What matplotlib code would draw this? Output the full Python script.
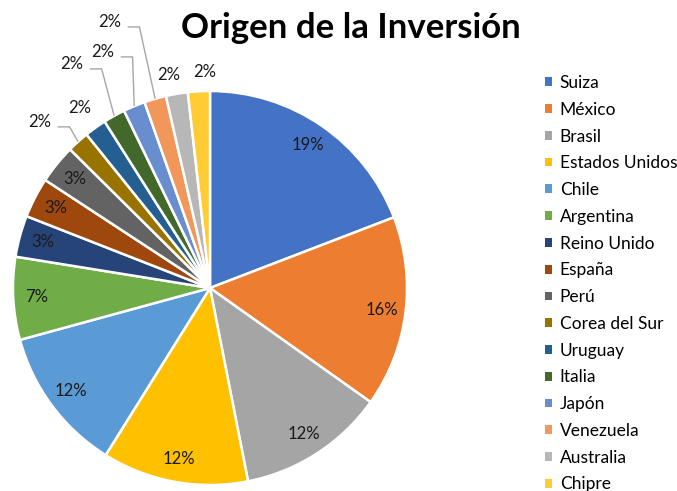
import numpy as np
import matplotlib
matplotlib.use("Agg")
import matplotlib.pyplot as plt
from matplotlib.patches import Patch

plt.rcParams['font.family'] = ['Lato', 'DejaVu Sans']

# data
paises = ['Suiza', 'México', 'Brasil', 'Estados Unidos', 'Chile', 'Argentina',
          'Reino Unido', 'España', 'Perú', 'Corea del Sur', 'Uruguay', 'Italia',
          'Japón', 'Venezuela', 'Australia', 'Chipre']
valores = [19.2, 15.7, 12.1, 12.0, 11.9, 6.8, 3.4, 3.3, 3.2,
           1.8, 1.8, 1.8, 1.8, 1.8, 1.8, 1.8]
colores = ['#4472C4', '#ED7D31', '#A5A5A5', '#FFC000', '#5B9BD5', '#70AD47',
           '#264478', '#9E480E', '#636363', '#997300', '#255E91', '#43682B',
           '#698ED0', '#F1975A', '#B7B7B7', '#FFCD33']

# outside label placement for the small slices (data units, radius = 1)
fuera = {
    9: (-0.863, 0.843, True),
    10: (-0.66, 0.914, False),
    11: (-0.70, 1.137, True),
    12: (-0.543, 1.198, True),
    13: (-0.508, 1.35, True),
    14: (-0.208, 1.081, False),
    15: (-0.025, 1.096, False),
}

fig = plt.figure(figsize=(6.77, 4.91), dpi=100)
ax = fig.add_axes([13 / 677, 6 / 491, 394 / 677, 394 / 491])

wedges, _ = ax.pie(valores, colors=colores, startangle=90, counterclock=False,
                   radius=1.0, wedgeprops=dict(edgecolor='white', linewidth=1.8))
ax.set_xlim(-1, 1)
ax.set_ylim(-1, 1)
ax.set_aspect('equal')
ax.axis('off')

total = sum(valores)
for i, w in enumerate(wedges):
    txt = f"{valores[i] / total * 100:.0f}%"
    ang = np.deg2rad((w.theta1 + w.theta2) / 2)
    if i in fuera:
        tx, ty, linea = fuera[i]
        ax.text(tx, ty, txt, ha='center', va='center', fontsize=12, color='#1a1a1a')
        if linea:
            wx, wy = np.cos(ang), np.sin(ang)
            ly = ty - 0.025
            ax.plot([tx + 0.09, tx + 0.15, wx], [ly, ly, wy], color='#A6A6A6',
                    lw=1.0, solid_capstyle='butt', clip_on=False)
    else:
        ax.text(0.88 * np.cos(ang), 0.88 * np.sin(ang), txt, ha='center', va='center',
                fontsize=12, color='#1a1a1a')

fig.text(351 / 677, 1 - 28 / 491, 'Origen de la Inversión', ha='center', va='center',
         fontsize=25, fontweight='bold', color='black')

handles = [Patch(facecolor=c, edgecolor='none') for c in colores]
fig.legend(handles, paises, loc='upper left', bbox_to_anchor=(545 / 677, 1 - 75 / 491),
           frameon=False, fontsize=12.5, handlelength=0.4, handleheight=0.4,
           handletextpad=0.45, labelspacing=0.62, borderaxespad=0, borderpad=0)

fig.savefig('out.png', dpi=100, facecolor='white')
